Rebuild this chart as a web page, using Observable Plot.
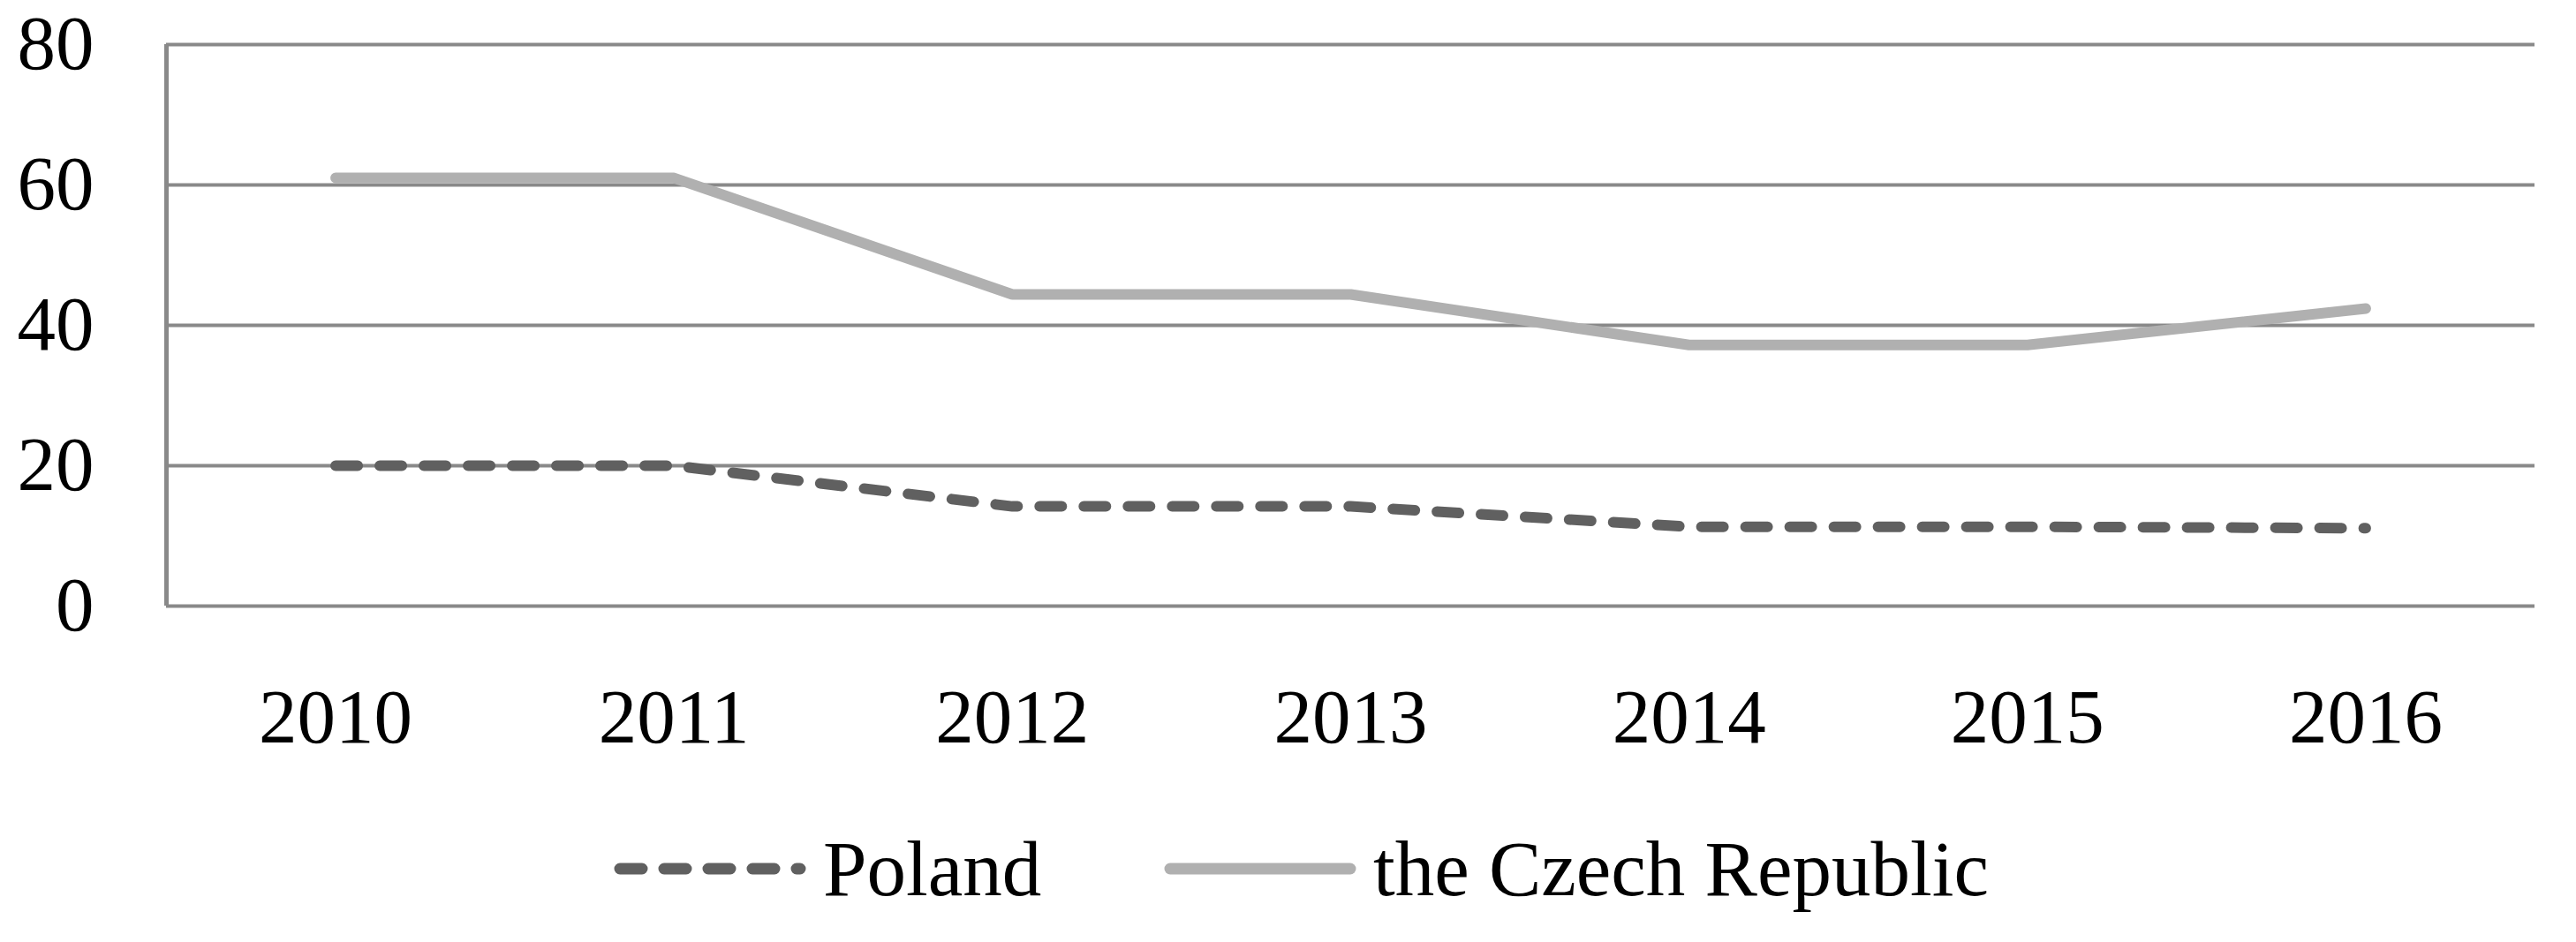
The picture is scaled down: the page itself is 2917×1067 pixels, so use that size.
<!DOCTYPE html>
<html>
<head>
<meta charset="utf-8">
<script src="https://cdn.jsdelivr.net/npm/d3@7"></script>
<script src="https://cdn.jsdelivr.net/npm/@observablehq/plot@0.6"></script>
<style>
  html, body { margin: 0; padding: 0; background: #fff; }
  body { width: 2917px; height: 1067px; overflow: hidden; font-family: "Liberation Serif", serif; }
  #legend { position: relative; width: 2917px; height: 167px; }
  .item { position: absolute; top: 0; height: 167px; display: flex; align-items: center; font-size: 89px; color: #000; }
  .item svg { margin-right: 18px; }
</style>
</head>
<body>
<div id="chart"></div>
<div id="legend"></div>
<script>
const years = [2010, 2011, 2012, 2013, 2014, 2015, 2016];
const poland = [20, 20, 14.2, 14.2, 11.3, 11.3, 11.1];
const czech = [61, 61, 44.4, 44.4, 37.2, 37.2, 42.4];
const seriesNames = ["Poland", "the Czech Republic"];
const yTicks = [0, 20, 40, 60, 80];

const data = [
  ...years.map((y, i) => ({year: y, value: poland[i], series: seriesNames[0]})),
  ...years.map((y, i) => ({year: y, value: czech[i], series: seriesNames[1]}))
];

const gridColor = "#898989";
const polandColor = "#606060";
const czechColor = "#b0b0b0";

const chart = Plot.plot({
  width: 2917,
  height: 900,
  marginLeft: 188,
  marginRight: 47,
  marginTop: 50,
  marginBottom: 214,
  style: {fontFamily: "Liberation Serif, serif", fontSize: "87px", color: "#000", background: "#fff"},
  x: {type: "linear", domain: [years[0] - 0.5, years[years.length - 1] + 0.5]},
  y: {domain: [yTicks[0], yTicks[yTicks.length - 1]]},
  marks: [
    Plot.ruleY(yTicks, {stroke: gridColor, strokeWidth: 4}),
    Plot.ruleX([years[0] - 0.5], {stroke: gridColor, strokeWidth: 5}),
    Plot.axisY({ticks: yTicks, tickSize: 0, tickPadding: 82, label: null, fill: "#000"}),
    Plot.axisX({ticks: years, tickFormat: d => String(d), tickSize: 0, tickPadding: 93, label: null, fill: "#000"}),
    Plot.line(data.filter(d => d.series === seriesNames[1]), {
      x: "year", y: "value", stroke: czechColor, strokeWidth: 12,
      strokeLinecap: "round", strokeLinejoin: "miter"
    }),
    Plot.line(data.filter(d => d.series === seriesNames[0]), {
      x: "year", y: "value", stroke: polandColor, strokeWidth: 12,
      strokeLinecap: "round", strokeLinejoin: "round", strokeDasharray: "25,25"
    })
  ]
});
document.getElementById("chart").appendChild(chart);

// Legend
const legend = document.getElementById("legend");
const items = [
  {name: seriesNames[0], color: polandColor, dash: "25,25", left: 694},
  {name: seriesNames[1], color: czechColor, dash: null, left: 1317}
];
for (const it of items) {
  const div = document.createElement("div");
  div.className = "item";
  div.style.left = it.left + "px";
  const sw = `<svg width="220" height="20"><line x1="8" y1="10" x2="212" y2="10" stroke="${it.color}" stroke-width="13" stroke-linecap="round" ${it.dash ? `stroke-dasharray="${it.dash}"` : ""}/></svg>`;
  div.innerHTML = sw + `<span>${it.name}</span>`;
  legend.appendChild(div);
}
</script>
</body>
</html>
